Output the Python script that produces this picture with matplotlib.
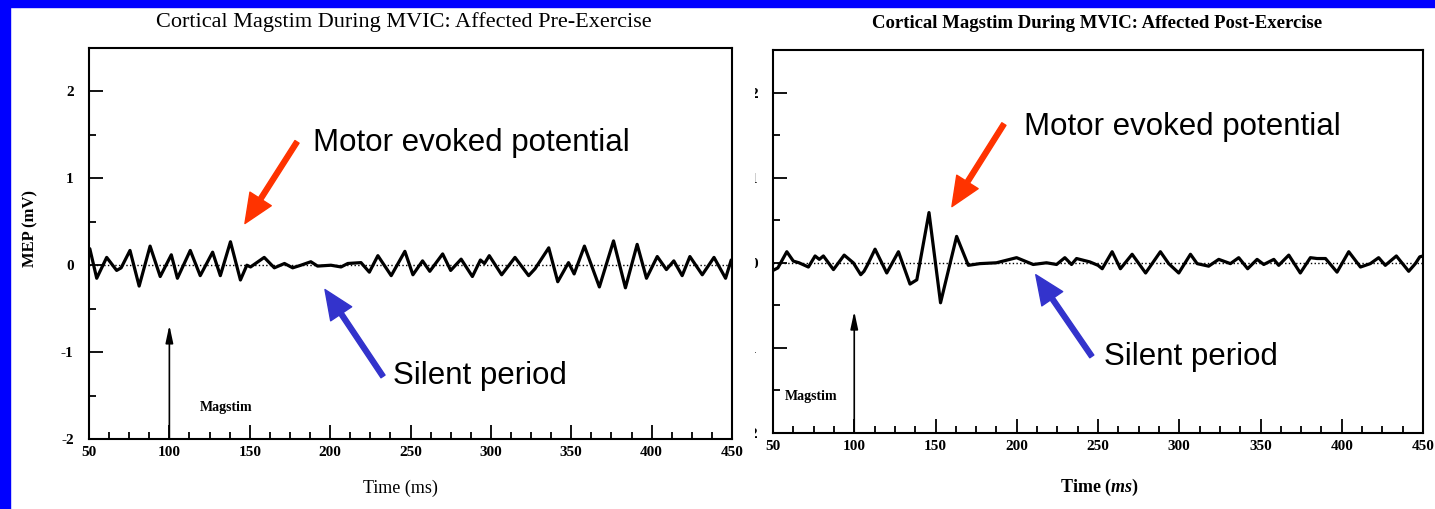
import matplotlib
matplotlib.use("Agg")
import matplotlib.pyplot as plt
from matplotlib.patches import Rectangle
from matplotlib.ticker import MultipleLocator
from matplotlib.transforms import Bbox, TransformedBbox

# EMG trace (time in ms, MEP in mV)
pre_time = [50.5, 54.8, 61.0, 67.2, 70.0, 75.5, 81.2, 88.0, 94.3, 101.2,
            105.0, 113.0, 119.2, 126.9, 131.7, 138.0, 144.2, 148.2, 150.5, 159.0,
            165.3, 171.6, 176.7, 181.8, 188.0, 192.2, 200.5, 206.8, 211.0, 219.2,
            224.4, 229.7, 238.0, 246.5, 251.5, 257.5, 262.0, 270.0, 275.0, 281.5,
            288.5, 293.5, 296.0, 299.0, 306.7, 315.0, 323.5, 327.5, 336.0, 341.6,
            348.3, 351.8, 358.2, 367.5, 376.3, 383.7, 391.0, 396.8, 403.5, 409.2,
            413.8, 419.0, 423.8, 431.5, 438.8, 446.0, 449.5]
pre_mep = [0.19, -0.15, 0.09, -0.06, -0.03, 0.17, -0.24, 0.22, -0.13, 0.12,
           -0.15, 0.17, -0.12, 0.15, -0.12, 0.27, -0.17, 0.00, -0.02, 0.09,
           -0.03, 0.02, -0.03, 0.00, 0.04, -0.01, 0.00, -0.02, 0.02, 0.03,
           -0.08, 0.11, -0.12, 0.16, -0.11, 0.05, -0.07, 0.13, -0.06, 0.07,
           -0.13, 0.06, 0.02, 0.11, -0.11, 0.09, -0.12, -0.04, 0.20, -0.19,
           0.03, -0.10, 0.22, -0.25, 0.28, -0.26, 0.24, -0.15, 0.10, -0.05,
           0.05, -0.12, 0.10, -0.11, 0.09, -0.15, 0.06]

# EMG trace
post_time = [50.0, 53.0, 58.5, 62.5, 66.0, 71.8, 75.9, 78.5, 81.0, 87.2,
             93.8, 99.4, 104.0, 106.0, 108.0, 112.8, 120.0, 127.2, 134.3, 138.5,
             146.0, 153.1, 163.0, 170.2, 177.3, 187.5, 199.9, 210.1, 218.3, 224.5,
             229.6, 233.7, 236.8, 245.0, 250.0, 252.6, 258.7, 263.8, 271.0, 279.3,
             288.4, 293.5, 299.7, 306.9, 311.0, 318.1, 324.3, 331.5, 336.6, 342.1,
             347.9, 352.0, 358.2, 361.2, 367.4, 374.5, 380.7, 384.8, 390.0, 397.1,
             404.3, 411.5, 417.6, 422.7, 426.8, 433.6, 441.2, 445.3, 448.0, 450.0]
post_mep = [-0.09, -0.06, 0.13, 0.02, 0.00, -0.05, 0.08, 0.04, 0.08, -0.08,
            0.09, 0.00, -0.14, -0.10, -0.03, 0.16, -0.12, 0.13, -0.25, -0.20,
            0.59, -0.47, 0.31, -0.03, -0.01, 0.00, 0.06, -0.02, 0.00, -0.02,
            0.06, -0.02, 0.05, 0.01, -0.03, -0.07, 0.13, -0.07, 0.10, -0.12,
            0.13, -0.01, -0.12, 0.10, -0.01, -0.04, 0.04, -0.01, 0.06, -0.07,
            0.04, -0.02, 0.04, -0.03, 0.09, -0.12, 0.06, 0.05, 0.05, -0.11,
            0.13, -0.05, -0.01, 0.06, -0.03, 0.08, -0.10, -0.01, 0.07, 0.08]

x_ticks = [50, 100, 150, 200, 250, 300, 350, 400, 450]
y_ticks = [-2, -1, 0, 1, 2]
titles = ["Cortical Magstim During MVIC: Affected Pre-Exercise",
          "Cortical Magstim During MVIC: Affected Post-Exercise"]

plt.rcParams['axes.unicode_minus'] = False
plt.rcParams['font.family'] = ['Liberation Serif', 'DejaVu Serif']
plt.rcParams['mathtext.fontset'] = 'custom'
plt.rcParams['mathtext.it'] = 'Liberation Serif:italic:bold'
plt.rcParams['mathtext.rm'] = 'Liberation Serif:bold'

RED = '#ff3300'
BLUE = '#3333cc'


def draw_panel(ax, time, mep, stim_tip, stim_label_pos):
    ax.plot(time, mep, color='black', lw=2.3, solid_joinstyle='round',
            solid_capstyle='round')
    ax.axhline(0, color='black', lw=1.0, ls=':')

    ax.set_xlim(50, 450)
    ax.set_ylim(-2, 2.5)
    ax.set_xticks(x_ticks, labels=[str(t) for t in x_ticks], fontweight='bold', fontsize=11)
    ax.set_yticks(y_ticks, labels=[str(v) for v in y_ticks], fontweight='bold', fontsize=11)
    ax.xaxis.set_minor_locator(MultipleLocator(12.5))
    ax.yaxis.set_minor_locator(MultipleLocator(0.5))
    ax.tick_params(which='major', direction='in', length=10, width=1.3)
    ax.tick_params(which='minor', direction='in', length=5, width=1.3)
    ax.tick_params(axis='x', pad=5)
    ax.tick_params(axis='y', pad=11)
    for sp in ax.spines.values():
        sp.set_linewidth(1.5)

    # magstim marker
    ax.annotate('', xy=(100, stim_tip), xytext=(100, -2),
                arrowprops=dict(arrowstyle='-|>,head_length=0.7,head_width=0.15',
                                color='black', lw=1.2, shrinkA=0, shrinkB=0,
                                mutation_scale=15))
    ax.text(stim_label_pos[0], stim_label_pos[1], 'Magstim', fontsize=10,
            fontweight='bold', va='center', ha='left')


def callout(ax, text, tail, tip, text_pos, color):
    ax.annotate('', xy=tip, xytext=tail, annotation_clip=False,
                arrowprops=dict(arrowstyle='simple,head_length=1.5,head_width=1.3,tail_width=0.25',
                                color=color, shrinkA=0, shrinkB=0, mutation_scale=14))
    ax.text(text_pos[0], text_pos[1], text, fontsize=22.5, family='Liberation Sans',
            va='center', ha='left', clip_on=False)


def main():
    fig = plt.figure(figsize=(14.35, 5.09), dpi=100)
    fig.patch.set_facecolor('white')

    ax1 = fig.add_axes([89 / 1435, 1 - 439 / 509, 643 / 1435, 391 / 509])
    ax2 = fig.add_axes([773 / 1435, 1 - 433 / 509, 650 / 1435, 383 / 509])

    draw_panel(ax1, pre_time, pre_mep, -0.69, (119, -1.64))
    draw_panel(ax2, post_time, post_mep, -0.57, (57.4, -1.57))

    callout(ax1, 'Motor evoked potential', (179.4, 1.42), (147.0, 0.48), (189.3, 1.41), RED)
    callout(ax1, 'Silent period', (232.9, -1.28), (196.8, -0.28), (239.1, -1.28), BLUE)
    callout(ax2, 'Motor evoked potential', (192.1, 1.63), (160.1, 0.66), (204.4, 1.60), RED)
    callout(ax2, 'Silent period', (246.2, -1.10), (211.7, -0.14), (253.6, -1.11), BLUE)

    fig.text(403.5 / 1435, 1 - 22 / 509, titles[0], fontsize=16, ha='center', va='center')
    fig.text(1097 / 1435, 1 - 23 / 509, titles[1], fontsize=13.5, fontweight='bold',
             ha='center', va='center')
    fig.text(400 / 1435, 1 - 488 / 509, 'Time (ms)', fontsize=13, ha='center', va='center')
    fig.text(1099 / 1435, 1 - 487 / 509, r'Time ($\mathit{ms}$)', fontsize=13,
             fontweight='bold', ha='center', va='center')
    fig.text(30 / 1435, 1 - 228 / 509, 'MEP (mV)', fontsize=12, fontweight='bold',
             rotation=90, ha='center', va='center')

    # blue slide frame on the left and top
    fig.add_artist(Rectangle((0, 0), 10 / 1435, 1, transform=fig.transFigure,
                             color='#0000ff', zorder=10))
    fig.add_artist(Rectangle((0, 1 - 7 / 509), 1, 7 / 509, transform=fig.transFigure,
                             color='#0000ff', zorder=10))

    # the right panel was cropped, so its y labels are cut off
    fig.canvas.draw()
    clip = TransformedBbox(Bbox([[755 / 1435, 0], [1, 1]]), fig.transFigure)
    for lab in ax2.get_yticklabels():
        lab.set_clip_box(clip)
        lab.set_clip_on(True)

    fig.savefig('out.png', dpi=100)


if __name__ == '__main__':
    main()
